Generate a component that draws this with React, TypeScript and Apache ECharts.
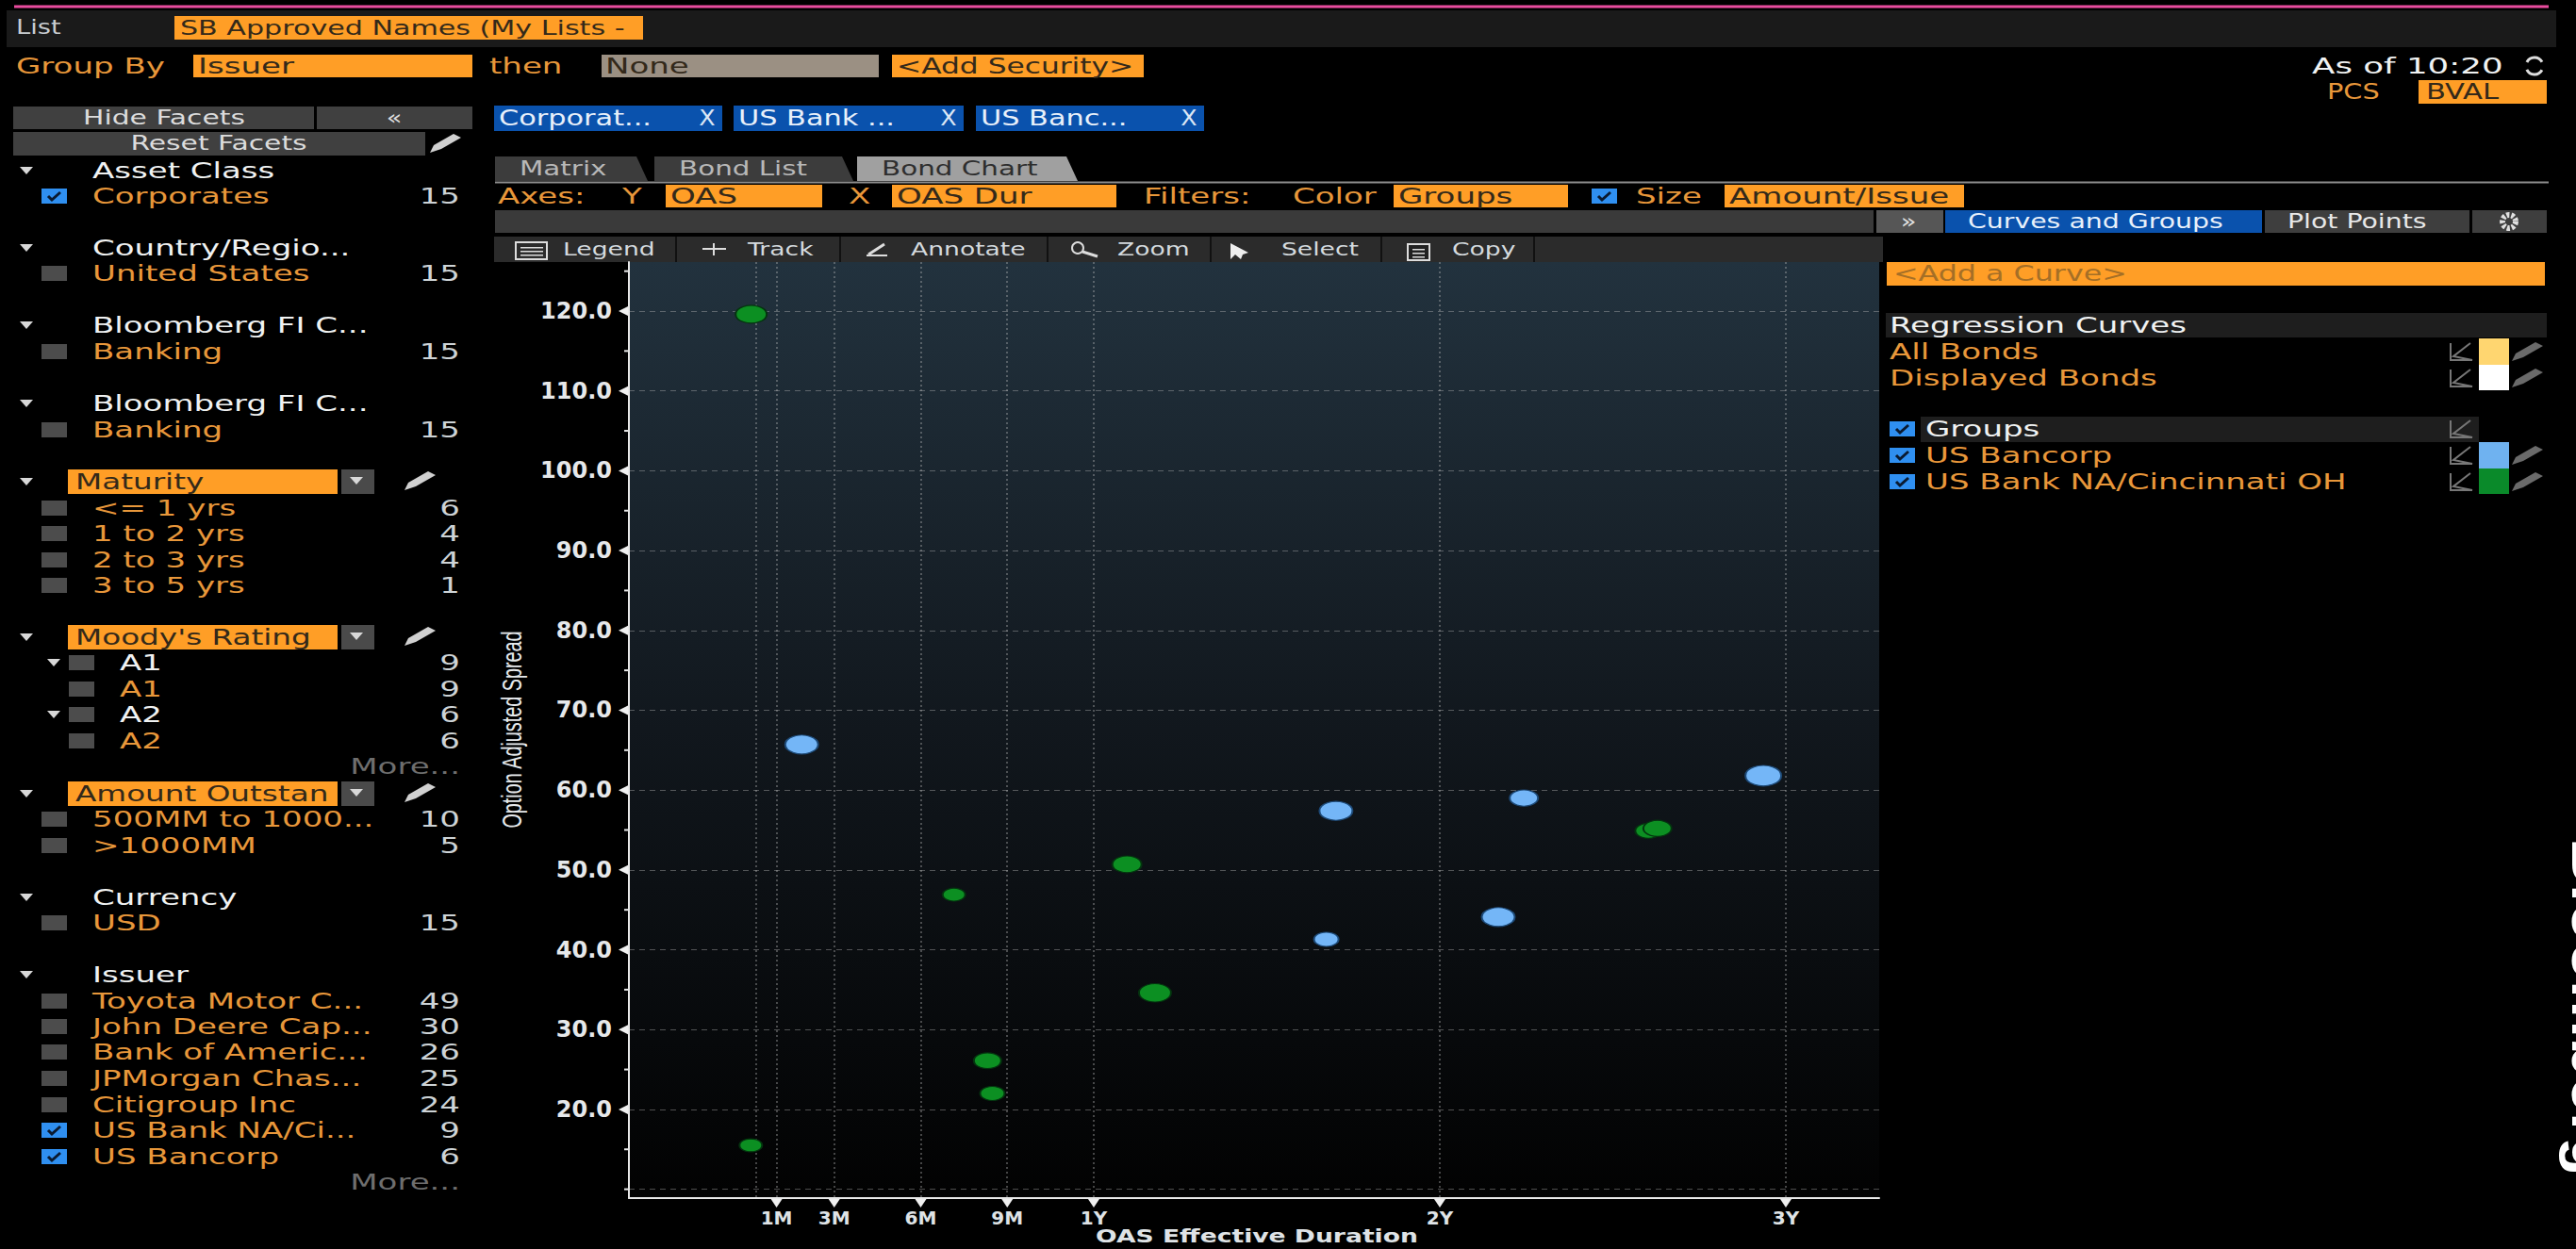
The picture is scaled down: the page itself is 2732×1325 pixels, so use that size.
import React, { useEffect, useRef } from "react";
import * as echarts from "echarts";

// ---- chart data (x: OAS effective duration in years, y: OAS, z: amount outstanding, MM) ----
const usBancorpDur = [0.156, 1.70, 1.672, 2.169, 2.243, 2.935];
const usBancorpOas = [65.7, 57.4, 41.3, 44.1, 59.0, 61.8];
const usBancorpAmt = [1050, 1050, 600, 1050, 800, 1200];

const usBankDur = [0.010, 0.009, 0.596, 0.693, 0.707, 1.096, 1.177, 2.603, 2.629];
const usBankOas = [119.6, 15.5, 46.9, 26.1, 22.0, 50.7, 34.6, 54.9, 55.2];
const usBankAmt = [950, 500, 500, 750, 600, 850, 1000, 700, 800];

const xTickValues = [1 / 12, 0.25, 0.5, 0.75, 1, 2, 3];
const xTickLabels = ["1M", "3M", "6M", "9M", "1Y", "2Y", "3Y"];
const xGridValues = [0.0237, ...xTickValues];
const yLabelled = [20, 30, 40, 50, 60, 70, 80, 90, 100, 110, 120];
const yGridValues = [10, ...yLabelled];
const yMinorTicks = [10, 15, 25, 35, 45, 55, 65, 75, 85, 95, 105, 115, 125];

// ---- screen furniture text ----
const facetHeaders: [string, number][] = [
  ["Asset Class", 181], ["Country/Regio...", 263], ["Bloomberg FI C...", 345], ["Bloomberg FI C...", 428],
  ["Currency", 952], ["Issuer", 1034],
];
const facetRows: [string, string, number, boolean][] = [
  ["Corporates", "15", 208, true], ["United States", "15", 290, false], ["Banking", "15", 373, false],
  ["Banking", "15", 456, false], ["<= 1 yrs", "6", 539, false], ["1 to 2 yrs", "4", 566, false],
  ["2 to 3 yrs", "4", 594, false], ["3 to 5 yrs", "1", 621, false], ["500MM to 1000...", "10", 869, false],
  [">1000MM", "5", 897, false], ["USD", "15", 979, false], ["Toyota Motor C...", "49", 1062, false],
  ["John Deere Cap...", "30", 1089, false], ["Bank of Americ...", "26", 1116, false],
  ["JPMorgan Chas...", "25", 1144, false], ["Citigroup Inc", "24", 1172, false],
  ["US Bank NA/Ci...", "9", 1199, true], ["US Bancorp", "6", 1227, true],
];
const ratingRows: [string, string, number, boolean][] = [
  ["A1", "9", 703, true], ["A1", "9", 731, false], ["A2", "6", 758, true], ["A2", "6", 786, false],
];
const orangeHeads: [string, number][] = [["Maturity", 511], ["Moody's Rating", 676], ["Amount Outstan", 842]];

const ORANGE = "#e8973a";
const BOX = "#ff9e26";
const DARK = "#33291a";
const WHITE = "#f0f2f2";
const GREY = "#cdd3d6";
const STRETCH = 1.48;
const FONT = "'DejaVu Sans', Verdana, sans-serif";

function txt(text: string, x: number, y: number, fill: string, opt: any = {}) {
  const { size = 23, sx = STRETCH, align = "left", weight = "normal" } = opt;
  return {
    type: "text", x, y, scaleX: sx, silent: true,
    style: { text, fill, fontSize: size, fontFamily: FONT, fontWeight: weight, align, verticalAlign: "middle" },
  };
}
function box(x0: number, y0: number, x1: number, y1: number, fill: any) {
  return { type: "rect", silent: true, shape: { x: x0, y: y0, width: x1 - x0, height: y1 - y0 }, style: { fill } };
}
function poly(points: number[][], fill: string) {
  return { type: "polygon", silent: true, shape: { points }, style: { fill } };
}
function pline(points: number[][], stroke: string, lineWidth = 2) {
  return { type: "polyline", silent: true, shape: { points }, style: { stroke, lineWidth, fill: "none" } };
}
function arrow(x: number, y: number) {
  return poly([[x - 7, y - 4], [x + 7, y - 4], [x, y + 4]], "#d8d8d8");
}
function pencil(x: number, y: number, c = "#d0d0d0") {
  return poly([[x - 16, y + 10], [x - 12, y + 2], [x + 9, y - 10], [x + 17, y - 6], [x - 4, y + 6]], c);
}
function check(x: number, y: number, on: boolean, w = 27) {
  if (!on) return [box(x, y - 8, x + w, y + 8, "#4c4c4c")];
  return [
    box(x, y - 8, x + w, y + 8, "#2f8ff0"),
    pline([[x + 7, y], [x + 11, y + 4], [x + 20, y - 4]], "#0a1a30", 3),
  ];
}
function mini(x: number, y: number) {
  return pline([[x - 11, y - 9], [x - 11, y + 9], [x + 12, y + 9], [x - 8, y + 5], [x + 10, y - 9]], "#777", 2);
}
function tab(x0: number, x1: number, fill: string) {
  return poly([[x0, 192], [x0, 166], [x1 - 12, 166], [x1, 192]], fill);
}

function furniture(): any[] {
  const e: any[] = [];
  // top bars
  e.push(box(7, 11, 2711, 50, "#1a1a1a"));
  e.push(box(15, 5.5, 2703, 8.5, "#ea4c9f"));
  e.push(txt("List", 17, 29, "#c8ccd0", { size: 21, sx: 1.3 }));
  e.push(box(185, 17, 682, 42, BOX), txt("SB Approved Names (My Lists -", 191, 29, DARK, { size: 22, sx: 1.37 }));
  e.push(txt("Group By", 17, 70, ORANGE));
  e.push(box(205, 58, 501, 82, BOX), txt("Issuer", 210, 70, DARK));
  e.push(txt("then", 519, 70, ORANGE));
  e.push(box(638, 58, 932, 82, "#9b9083"), txt("None", 642, 70, DARK));
  e.push(box(946, 58, 1213, 82, BOX), txt("<Add Security>", 951, 70, DARK, { sx: 1.36 }));
  e.push(txt("As of 10:20", 2452, 70, WHITE, { sx: 1.55 }));
  e.push({ type: "arc", silent: true, shape: { cx: 2688, cy: 70, r: 9, startAngle: 0.5, endAngle: 2.7 }, style: { stroke: "#ddd", lineWidth: 3, fill: "none" } });
  e.push({ type: "arc", silent: true, shape: { cx: 2688, cy: 70, r: 9, startAngle: 3.6, endAngle: 5.8 }, style: { stroke: "#ddd", lineWidth: 3, fill: "none" } });
  e.push(txt("PCS", 2468, 97, ORANGE, { sx: 1.25 }));
  e.push(box(2565, 85, 2701, 110, BOX), txt("BVAL", 2573, 97, DARK, { sx: 1.33 }));

  // left facets
  e.push(box(14, 113, 333, 137, "#404040"), txt("Hide Facets", 174, 125, "#dcdcdc", { size: 21, sx: 1.42, align: "center" }));
  e.push(box(336, 113, 501, 137, "#404040"), txt("«", 418, 125, "#dcdcdc", { size: 21, sx: 1.3, align: "center" }));
  e.push(box(14, 140, 451, 165, "#404040"), txt("Reset Facets", 232, 152, "#dcdcdc", { size: 21, sx: 1.42, align: "center" }));
  e.push(pencil(472, 152));
  facetHeaders.forEach(([t, y]) => e.push(arrow(28, y), txt(t, 98, y, WHITE)));
  facetRows.forEach(([t, n, y, on]) => e.push(...check(44, y, on), txt(t, 98, y, ORANGE), txt(n, 488, y, GREY, { align: "right" })));
  orangeHeads.forEach(([t, y]) => {
    e.push(arrow(28, y), box(72, y - 13, 358, y + 13, BOX), txt(t, 80, y, DARK, { sx: 1.42 }));
    e.push(box(362, y - 13, 397, y + 13, "#4a4a4a"), arrow(378, y - 1), pencil(445, y - 1));
  });
  ratingRows.forEach(([t, n, y, head]) => {
    if (head) e.push(arrow(57, y));
    e.push(box(73, y - 8, 100, y + 8, "#4c4c4c"), txt(t, 127, y, head ? WHITE : ORANGE), txt(n, 488, y, GREY, { align: "right" }));
  });
  e.push(txt("More...", 488, 813, "#6e6e6e", { align: "right" }), txt("More...", 488, 1254, "#6e6e6e", { align: "right" }));

  // chips
  ([["Corporat...", 524, 766], ["US Bank ...", 778, 1022], ["US Banc...", 1035, 1277]] as [string, number, number][]).forEach(([t, a, b]) => {
    e.push(box(a, 112, b, 139, "#0a52ad"), txt(t, a + 5, 125, "#e8f0fa", { sx: 1.32 }), txt("X", b - 16, 125, "#dbe6f5", { size: 23, sx: 1.1, align: "center" }));
  });
  // tabs
  e.push(tab(525, 687, "#3c3c3c"), tab(694, 905, "#3c3c3c"), tab(909, 1143, "#a0a0a0"));
  e.push(txt("Matrix", 551, 179, "#b8b8b8", { size: 21, sx: 1.4 }), txt("Bond List", 720, 179, "#b8b8b8", { size: 21, sx: 1.4 }), txt("Bond Chart", 935, 179, "#2e2e2e", { size: 21, sx: 1.4 }));
  e.push(box(525, 192.5, 2703, 194.5, "#8c8c8c"));
  // axes row
  e.push(txt("Axes:", 528, 208, ORANGE), txt("Y", 660, 208, ORANGE));
  e.push(box(706, 196, 872, 220, BOX), txt("OAS", 711, 208, DARK));
  e.push(txt("X", 900, 208, ORANGE), box(946, 196, 1184, 220, BOX), txt("OAS Dur", 951, 208, DARK));
  e.push(txt("Filters:", 1213, 208, ORANGE), txt("Color", 1371, 208, ORANGE));
  e.push(box(1478, 196, 1663, 220, BOX), txt("Groups", 1483, 208, DARK));
  e.push(...check(1688, 208, true), txt("Size", 1735, 208, ORANGE));
  e.push(box(1829, 196, 2083, 220, BOX), txt("Amount/Issue", 1834, 208, DARK));
  // grey band and panel buttons
  e.push(box(525, 223, 1987, 247, "#3a3a3a"));
  e.push(box(1990, 223, 2061, 247, "#565656"), txt("»", 2024, 235, "#e0e0e0", { size: 21, sx: 1.3, align: "center" }));
  e.push(box(2063, 223, 2399, 247, "#0a52ad"), txt("Curves and Groups", 2087, 235, "#e8f0fa", { size: 21, sx: 1.35 }));
  e.push(box(2402, 223, 2619, 247, "#3e3e3e"), txt("Plot Points", 2426, 235, "#e8e8e8", { size: 21, sx: 1.35 }));
  e.push(box(2622, 223, 2701, 247, "#3e3e3e"));
  e.push({ type: "circle", silent: true, shape: { cx: 2661, cy: 235, r: 7 }, style: { fill: "none", stroke: "#e0e0e0", lineWidth: 6, lineDash: [3, 2] } });
  // toolbar
  e.push(box(524, 251, 1997, 278, "#2b2b2b"));
  [716, 890, 1110, 1283, 1464, 1626].forEach((x) => e.push(box(x, 251, x + 2, 278, "#111")));
  ([["Legend", 597], ["Track", 793], ["Annotate", 966], ["Zoom", 1185], ["Select", 1359], ["Copy", 1540]] as [string, number][]).forEach(([t, x]) =>
    e.push(txt(t, x, 264, "#d4dade", { size: 20, sx: 1.33 })));
  e.push({ type: "rect", silent: true, shape: { x: 547, y: 257, width: 33, height: 18 }, style: { fill: "none", stroke: "#ddd", lineWidth: 2 } });
  [262, 266, 270].forEach((y) => e.push(box(552, y, 576, y + 1.5, "#ddd")));
  e.push(pline([[745, 264], [770, 264]], "#ddd"), pline([[757, 258], [757, 271]], "#ddd"));
  e.push(pline([[919, 271], [941, 271]], "#ddd"), pline([[921, 270], [938, 259]], "#ddd", 3));
  e.push({ type: "circle", silent: true, shape: { cx: 1143, cy: 263, r: 6 }, style: { fill: "none", stroke: "#ddd", lineWidth: 2 } });
  e.push(pline([[1148, 267], [1164, 272]], "#ddd", 3));
  e.push(poly([[1305, 258], [1305, 275], [1310, 270], [1316, 275], [1318, 270], [1324, 268]], "#eee"));
  e.push({ type: "rect", silent: true, shape: { x: 1493, y: 259, width: 23, height: 17 }, style: { fill: "#222", stroke: "#ddd", lineWidth: 2 } });
  [264, 268, 272].forEach((y) => e.push(box(1498, y, 1511, y + 1.5, "#ddd")));

  // right panel
  e.push(box(2001, 278, 2699, 303, BOX), txt("<Add a Curve>", 2008, 290, "#a56f26", { sx: 1.38 }));
  e.push(box(2000, 332, 2701, 358, "#1e1e1e"), txt("Regression Curves", 2004, 345, WHITE));
  e.push(txt("All Bonds", 2004, 373, ORANGE), txt("Displayed Bonds", 2004, 401, ORANGE));
  e.push(box(2629, 359, 2661, 387, "#ffd670"), box(2629, 387, 2661, 414, "#ffffff"));
  e.push(...check(2004, 455, true), box(2037, 442, 2629, 469, "#1e1e1e"), txt("Groups", 2042, 455, WHITE));
  e.push(...check(2004, 483, true), txt("US Bancorp", 2042, 483, ORANGE));
  e.push(...check(2004, 511, true), txt("US Bank NA/Cincinnati OH", 2042, 511, ORANGE));
  e.push(box(2629, 469, 2661, 497, "#6fb2f0"), box(2629, 497, 2661, 524, "#0a8a2a"));
  [373, 401, 455, 483, 511].forEach((y) => e.push(mini(2610, y)));
  [373, 401, 483, 511].forEach((y) => e.push(pencil(2680, y, "#6a6a6a")));

  // axis titles: stretched like the rest of the screen
  e.push({
    type: "text", x: 542, y: 774, rotation: Math.PI / 2, scaleX: 0.66, silent: true,
    style: { text: "Option Adjusted Spread", fill: "#e6e9ec", fontSize: 30, fontFamily: "'Liberation Sans', Arial, sans-serif", align: "center", verticalAlign: "middle" },
  });
  e.push(txt("OAS Effective Duration", 1333, 1311, "#dfe3e6", { size: 20, sx: 1.33, weight: "bold", align: "center" }));

  // vertical wordmark, cut by the right edge as in the reference
  e.push({
    type: "text", x: 2752, y: 889, rotation: -Math.PI / 2, silent: true,
    style: { text: "Bloomberg", fill: "#ffffff", fontSize: 68, fontWeight: "bold", fontFamily: "'Liberation Sans', Arial, sans-serif", align: "left", verticalAlign: "middle" },
  });
  return e;
}

const symbolWidth = (amt: number) => 14 + amt * 0.02;
const bubbleSize = (v: number[]) => [symbolWidth(v[2]), symbolWidth(v[2]) * 0.57];
const zip = (a: number[], b: number[], c: number[]) => a.map((x, i) => [x, b[i], c[i]]);

const X_MIN = -0.3433;
const X_MAX = 3.2698;
const Y_MIN = 8.89;
const Y_MAX = 126.14;

export default function App() {
  const ref = useRef<HTMLDivElement>(null);
  useEffect(() => {
    document.body.style.margin = "0";
    document.body.style.background = "#000";
    const chart = echarts.init(ref.current!, undefined, { renderer: "svg" });
    const gridLine = (dash: number[], width: number, color: string) => ({
      show: true, lineStyle: { color, type: dash, width },
    });
    chart.setOption({
      animation: false,
      backgroundColor: "#000",
      grid: {
        left: 667, top: 278, width: 1326, height: 993, show: true, borderWidth: 0, outerBoundsMode: "none",
        backgroundColor: new echarts.graphic.LinearGradient(0, 0, 0, 1, [
          { offset: 0, color: "#22323e" },
          { offset: 0.5, color: "#11171d" },
          { offset: 1, color: "#020202" },
        ]),
      },
      graphic: { elements: furniture() },
      xAxis: {
        type: "value", min: X_MIN, max: X_MAX,
        axisLine: { show: true, onZero: false, lineStyle: { color: "#e8e8e8", width: 2 } },
        axisTick: { show: false, customValues: xGridValues },
        axisLabel: {
          color: "#dfe3e6", fontSize: 20, fontWeight: "bold", fontFamily: FONT, margin: 11,
          customValues: xTickValues,
          formatter: (v: number) => xTickLabels[xTickValues.findIndex((t) => Math.abs(t - v) < 1e-6)] ?? "",
        },
        splitLine: gridLine([2, 3], 1.6, "rgba(190,190,190,0.45)"),
      },
      yAxis: {
        type: "value", min: Y_MIN, max: Y_MAX,
        axisLine: { show: true, onZero: false, lineStyle: { color: "#e8e8e8", width: 2 } },
        axisTick: { show: false, customValues: yGridValues },
        axisLabel: {
          color: "#e6e8ea", fontSize: 24, fontWeight: "bold", fontFamily: FONT, margin: 18,
          customValues: yLabelled,
          formatter: (v: number) => v.toFixed(1),
        },
        splitLine: gridLine([6, 5], 1, "rgba(190,190,190,0.4)"),
      },
      series: [
        {
          name: "US Bancorp", type: "scatter", z: 5, data: zip(usBancorpDur, usBancorpOas, usBancorpAmt),
          symbol: "circle", symbolSize: bubbleSize,
          itemStyle: { color: "#74b6f7", borderColor: "#1d4a78", borderWidth: 1.5, opacity: 1 },
        },
        {
          name: "US Bank NA/Cincinnati OH", type: "scatter", z: 5, data: zip(usBankDur, usBankOas, usBankAmt),
          symbol: "circle", symbolSize: bubbleSize,
          itemStyle: { color: "#0c8f22", borderColor: "#04340f", borderWidth: 1.5, opacity: 1 },
        },
        {
          name: "x ticks", type: "custom", silent: true, z: 6, data: xTickValues.map((v) => [v]),
          renderItem: (_: any, api: any) => {
            const [x, y] = api.coord([api.value(0), Y_MIN]);
            return { type: "polygon", shape: { points: [[x - 6, y + 1], [x + 6, y + 1], [x, y + 10]] }, style: { fill: "#f0f0f0" } };
          },
        },
        {
          name: "y ticks", type: "custom", silent: true, z: 6, data: yLabelled.map((v) => [v]),
          renderItem: (_: any, api: any) => {
            const [x, y] = api.coord([X_MIN, api.value(0)]);
            return { type: "polygon", shape: { points: [[x - 1, y - 5], [x - 1, y + 5], [x - 11, y]] }, style: { fill: "#f0f0f0" } };
          },
        },
        {
          name: "y minor ticks", type: "custom", silent: true, z: 6, data: yMinorTicks.map((v) => [v]),
          renderItem: (_: any, api: any) => {
            const [x, y] = api.coord([X_MIN, api.value(0)]);
            return { type: "line", shape: { x1: x - 5, y1: y, x2: x, y2: y }, style: { stroke: "#e8e8e8", lineWidth: 2 } };
          },
        },
      ],
    });
    return () => chart.dispose();
  }, []);
  return <div ref={ref} style={{ width: 2732, height: 1325 }} />;
}
